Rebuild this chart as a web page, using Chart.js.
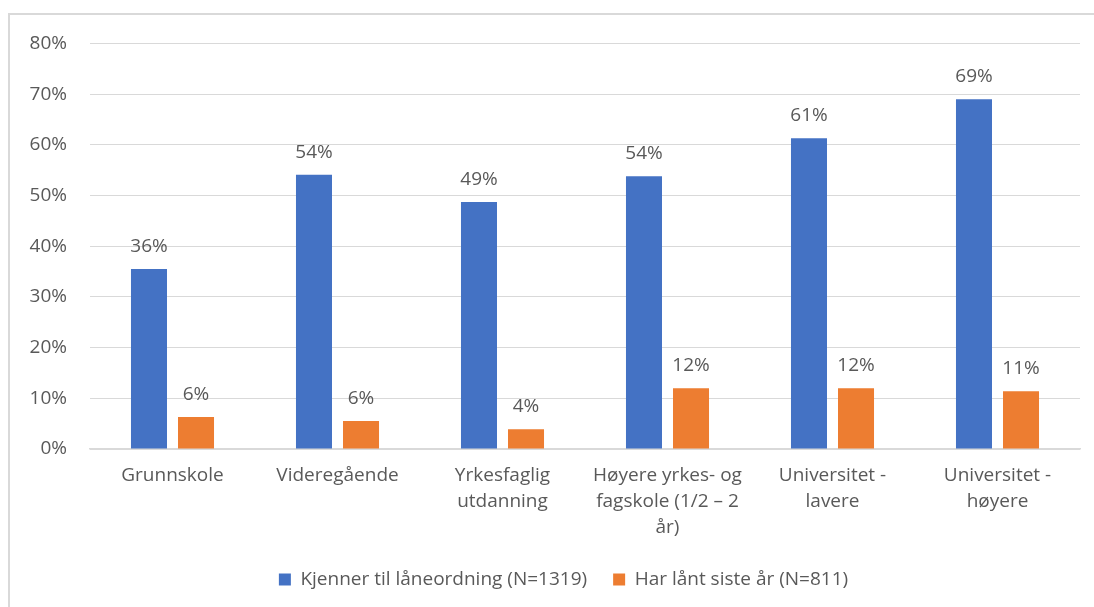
<!DOCTYPE html>
<html>
<head>
<meta charset="utf-8">
<script src="https://cdn.jsdelivr.net/npm/chart.js@4/dist/chart.umd.min.js"></script>
<style>
  html, body { margin: 0; padding: 0; background: #fff; overflow: hidden; }
  #frame { position: absolute; left: 8px; top: 13px; width: 1200px; height: 700px;
           border-left: 2px solid #d9d9d9; border-top: 2px solid #d9d9d9; }
  #myChart { position: absolute; left: 8px; top: 9px; }
</style>
</head>
<body>
<div id="frame"></div>
<canvas id="myChart" width="1111" height="597"></canvas>
<script>
  // data (percent)
  const categories = [
    'Grunnskole',
    'Videregående',
    ['Yrkesfaglig', 'utdanning'],
    ['Høyere yrkes- og', 'fagskole (1/2 – 2', 'år)'],
    ['Universitet -', 'lavere'],
    ['Universitet -', 'høyere']
  ];
  const seriesNames = ['Kjenner til låneordning (N=1319)', 'Har lånt siste år (N=811)'];
  const kjenner = [35.5, 54.1, 48.7, 53.8, 61.3, 69.0];
  const harLant = [6.3, 5.5, 3.9, 12.0, 12.0, 11.4];
  const yMax = 80;
  const yStep = 10;

  const textColor = '#595959';
  const fontFamily = '"Open Sans", Lato, sans-serif';
  const fontSize = 19;

  // simple data labels above the bars
  const barLabels = {
    id: 'barLabels',
    afterDatasetsDraw(chart) {
      const ctx = chart.ctx;
      ctx.save();
      ctx.font = fontSize + 'px ' + fontFamily;
      ctx.fillStyle = textColor;
      ctx.textAlign = 'center';
      ctx.textBaseline = 'alphabetic';
      chart.data.datasets.forEach((ds, i) => {
        chart.getDatasetMeta(i).data.forEach((bar, j) => {
          ctx.fillText(Math.round(ds.data[j]) + '%', bar.x, bar.y - 17);
        });
      });
      ctx.restore();
    }
  };

  const ctx = document.getElementById('myChart').getContext('2d');
  const myChart = new Chart(ctx, {
    type: 'bar',
    data: {
      labels: categories,
      datasets: [
        {
          label: seriesNames[0],
          data: kjenner,
          backgroundColor: '#4472C4',
          categoryPercentage: 0.57,
          barPercentage: 0.766
        },
        {
          label: seriesNames[1],
          data: harLant,
          backgroundColor: '#ED7D31',
          categoryPercentage: 0.57,
          barPercentage: 0.766
        }
      ]
    },
    plugins: [barLabels],
    options: {
      responsive: false,
      animation: false,
      layout: { padding: { top: 30, right: 0, left: 0, bottom: 7 } },
      scales: {
        x: {
          grid: { display: false, drawTicks: false },
          border: { color: '#d9d9d9', width: 1.5 },
          ticks: {
            color: textColor,
            padding: 13,
            maxRotation: 0,
            autoSkip: false,
            font: { family: fontFamily, size: fontSize, lineHeight: 1.385 }
          },
          afterFit: s => { s.height = 95; }
        },
        y: {
          min: 0,
          max: yMax,
          grid: { color: '#d9d9d9', lineWidth: 1, drawTicks: false },
          border: { display: false },
          ticks: {
            stepSize: yStep,
            color: textColor,
            padding: 23,
            font: { family: fontFamily, size: fontSize },
            callback: v => v + '%'
          },
          afterFit: s => { s.width = 82; }
        },
        // empty right-hand strip so the legend centres like the original
        yRight: {
          position: 'right',
          grid: { display: false, drawTicks: false },
          border: { display: false },
          ticks: { display: false },
          afterFit: s => { s.width = 39; }
        }
      },
      plugins: {
        legend: {
          position: 'bottom',
          labels: {
            color: textColor,
            boxWidth: 12,
            boxHeight: 12,
            padding: 26,
            font: { family: fontFamily, size: fontSize }
          }
        },
        tooltip: { enabled: false }
      }
    }
  });
</script>
</body>
</html>
